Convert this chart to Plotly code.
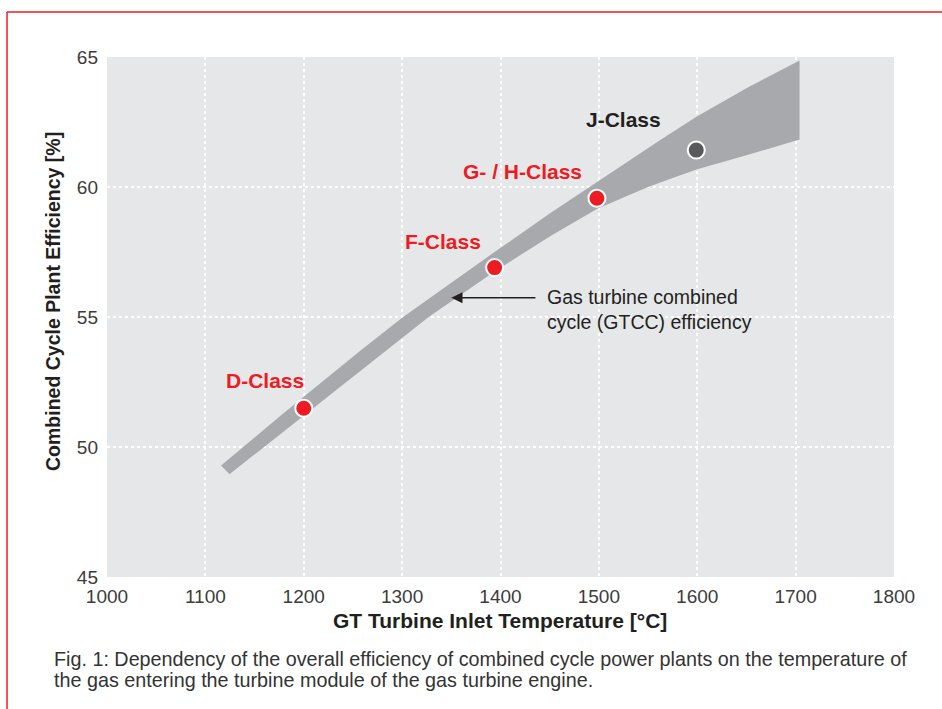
import plotly.graph_objects as go

# ---- data ----
upper_x = [1116, 1138, 1180, 1220, 1260, 1301, 1350, 1394, 1450, 1498, 1530, 1562, 1600, 1650, 1704]
upper_y = [49.29, 50.0, 51.32, 52.55, 53.78, 55.0, 56.33, 57.5, 58.98, 60.2, 61.0, 61.8, 62.72, 63.8, 64.87]
lower_x = [1124.5, 1160, 1200, 1245, 1285, 1327, 1394, 1450, 1498, 1525, 1550, 1575, 1600, 1650, 1704]
lower_y = [48.95, 50.0, 51.2, 52.55, 53.75, 55.0, 56.75, 58.1, 59.15, 59.6, 60.0, 60.35, 60.68, 61.22, 61.83]

class_names = ["D-Class", "F-Class", "G- / H-Class", "J-Class"]
class_x = [1200, 1394, 1498, 1599]
class_y = [51.49, 56.9, 59.57, 61.42]
class_colors = ["#ed1c24", "#ed1c24", "#ed1c24", "#58595b"]
label_colors = ["#ed1c24", "#ed1c24", "#ed1c24", "#231f20"]
label_dx = [-39, -52, -74, -73]
label_dy = [28, 26, 27, 31]

x_ticks = [1000, 1100, 1200, 1300, 1400, 1500, 1600, 1700, 1800]
y_ticks = [45, 50, 55, 60, 65]

arrow_tip_x, arrow_tail_x, arrow_y = 1350, 1437, 55.74
band_text = "Gas turbine combined<br>cycle (GTCC) efficiency"
band_text_x, band_text_y = 1445, 55.27

x_title = "GT Turbine Inlet Temperature [°C]"
y_title = "Combined Cycle Plant Efficiency [%]"
caption_lines = [
    "Fig. 1: Dependency of the overall efficiency of combined cycle power plants on the temperature of",
    "the gas entering the turbine module of the gas turbine engine.",
]

FONT = "Liberation Sans, Arial, sans-serif"
W, H = 942, 709
ML, MR, MT, MB = 107, 48, 57, 132
PW, PH = W - ML - MR, H - MT - MB


def px_x(p):
    return (p - ML) / PW


def px_y(p):
    return (H - MB - p) / PH


fig = go.Figure()

band_x = upper_x + lower_x[::-1]
band_y = upper_y + lower_y[::-1]
fig.add_trace(go.Scatter(x=band_x, y=band_y, mode="lines", fill="toself",
                         fillcolor="#a7a9ac", line=dict(width=0, color="#a7a9ac"),
                         hoverinfo="skip"))

fig.add_trace(go.Scatter(x=class_x, y=class_y, mode="markers",
                         marker=dict(size=17, color=class_colors,
                                     line=dict(color="white", width=2)),
                         hoverinfo="skip"))

ann = []
for n, x, y, c, dx, dy in zip(class_names, class_x, class_y, label_colors, label_dx, label_dy):
    ann.append(dict(x=x, y=y, xref="x", yref="y", text="<b>%s</b>" % n, showarrow=False,
                    xshift=dx, yshift=dy, font=dict(family=FONT, size=21, color=c)))

ann.append(dict(x=arrow_tip_x, y=arrow_y, ax=arrow_tail_x, ay=arrow_y, xref="x", yref="y",
                axref="x", ayref="y", text="", showarrow=True, arrowhead=2, arrowsize=1.4,
                arrowwidth=1.6, arrowcolor="#231f20"))
ann.append(dict(x=band_text_x, y=band_text_y, xref="x", yref="y", text=band_text,
                showarrow=False, xanchor="left", yanchor="middle", align="left",
                font=dict(family=FONT, size=19.5, color="#231f20")))

ann.append(dict(x=px_x(500), y=px_y(620), xref="paper", yref="paper",
                text="<b>%s</b>" % x_title, showarrow=False, xanchor="center", yanchor="middle",
                font=dict(family=FONT, size=21, color="#231f20")))
ann.append(dict(x=px_x(53), y=px_y(302), xref="paper", yref="paper",
                text="<b>%s</b>" % y_title, showarrow=False, textangle=-90,
                xanchor="center", yanchor="middle",
                font=dict(family=FONT, size=19.5, color="#231f20")))
for line, yy in zip(caption_lines, [659, 680]):
    ann.append(dict(x=px_x(52), y=px_y(yy), xref="paper", yref="paper", text=line,
                    showarrow=False, xanchor="left", yanchor="middle", align="left",
                    font=dict(family=FONT, size=19.75, color="#333333")))

red = "#ed1c24"
shapes = [
    dict(type="line", xref="paper", yref="paper", x0=px_x(7), x1=px_x(942),
         y0=px_y(12), y1=px_y(12), line=dict(color=red, width=1.5)),
    dict(type="line", xref="paper", yref="paper", x0=px_x(7), x1=px_x(7),
         y0=px_y(12), y1=px_y(709), line=dict(color=red, width=1.5)),
]

fig.update_layout(
    width=W, height=H, margin=dict(l=ML, r=MR, t=MT, b=MB, autoexpand=False),
    paper_bgcolor="white", plot_bgcolor="#e6e7e8", showlegend=False,
    annotations=ann, shapes=shapes, hovermode=False,
    font=dict(family=FONT, color="#3c3c3c"),
)
fig.update_xaxes(range=[1000, 1800], tickvals=x_ticks, showgrid=True, gridcolor="white",
                 griddash="dot", gridwidth=2, zeroline=False, showline=False, ticks="",
                 ticklabelstandoff=6, tickfont=dict(family=FONT, size=19, color="#3c3c3c"))
fig.update_yaxes(range=[45, 65], tickvals=y_ticks, showgrid=True, gridcolor="white",
                 griddash="dot", gridwidth=2, zeroline=False, showline=False, ticks="",
                 ticklabelstandoff=8, tickfont=dict(family=FONT, size=19, color="#3c3c3c"))

fig.write_html("out.html", config={"displayModeBar": False},
               post_script="document.body.style.margin='0';document.body.style.overflow='hidden';")
